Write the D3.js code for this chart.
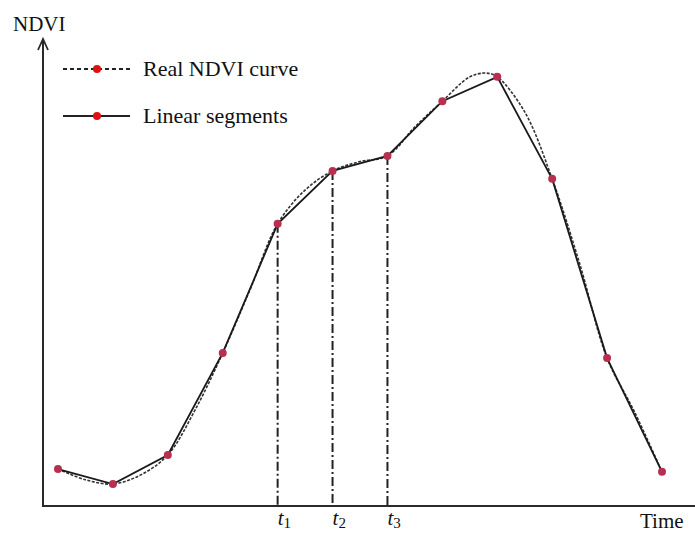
<!DOCTYPE html>
<html>
<head>
<meta charset="utf-8">
<script src="https://cdn.jsdelivr.net/npm/d3@7"></script>
<style>
  html, body { margin: 0; padding: 0; background: #fff; }
  svg { display: block; }
  text { font-family: "Liberation Serif", "Times New Roman", serif; fill: #111; }
</style>
</head>
<body>
<svg id="chart" width="695" height="534"></svg>
<script>
// Sample dates (time index) and NDVI values of the linear segment vertices
const segTime = [0, 1, 2, 3, 4, 5, 6, 7, 8, 9, 10, 11];
const segNdvi = [0.079, 0.047, 0.109, 0.327, 0.603, 0.716, 0.748, 0.865, 0.917, 0.699, 0.316, 0.073];

// Real NDVI curve, sampled at half steps
const realTime = [0, 0.5, 1, 1.5, 2, 2.5, 3, 3.5, 4, 4.5, 5, 5.5, 6, 6.5, 7, 7.5, 7.8, 8, 8.5, 9, 9.5, 10, 10.5, 11];
const realNdvi = [0.079, 0.056, 0.047, 0.066, 0.109, 0.206, 0.327, 0.463, 0.603, 0.675, 0.716, 0.736, 0.748, 0.810, 0.865, 0.917, 0.925, 0.917, 0.842, 0.699, 0.518, 0.316, 0.201, 0.073];

// Breakpoints marked on the time axis
const breakIdx = [4, 5, 6];
const breakLabels = ["1", "2", "3"];

const svg = d3.select("#chart");

const x = d3.scaleLinear().domain([0, 11]).range([58, 662]);
const y = d3.scaleLinear().domain([0, 1]).range([506, 38]);

const axisColor = "#2a2a2a";
const x0 = 43, yBase = 506;

// Axes with arrow heads
svg.append("line").attr("x1", x0).attr("y1", yBase).attr("x2", x0).attr("y2", 40)
  .attr("stroke", axisColor).attr("stroke-width", 2);
svg.append("path").attr("d", `M${x0 - 5},${50} L${x0},${39} L${x0 + 5},${50}`)
  .attr("fill", "none").attr("stroke", axisColor).attr("stroke-width", 1.8);
svg.append("line").attr("x1", x0 - 1).attr("y1", yBase).attr("x2", 695).attr("y2", yBase)
  .attr("stroke", axisColor).attr("stroke-width", 2);

// Axis titles
svg.append("text").attr("x", 13).attr("y", 31).attr("font-size", 21).text("NDVI");
svg.append("text").attr("x", 640).attr("y", 528).attr("font-size", 21).text("Time");

// Vertical dash-dot guides at breakpoints
breakIdx.forEach((i, k) => {
  svg.append("line")
    .attr("x1", x(segTime[i])).attr("x2", x(segTime[i]))
    .attr("y1", y(segNdvi[i])).attr("y2", yBase)
    .attr("stroke", "#222").attr("stroke-width", 2)
    .attr("stroke-dasharray", "9,3,2,3");
  const t = svg.append("text").attr("x", x(segTime[i])).attr("y", 525).attr("font-size", 21);
  t.append("tspan").attr("font-style", "italic").text("t");
  t.append("tspan").attr("font-size", 15).attr("dy", 3).text(breakLabels[k]);
});

// Real NDVI curve (dashed)
const realData = realTime.map((t, i) => [t, realNdvi[i]]);
svg.append("path").datum(realData)
  .attr("d", d3.line().x(d => x(d[0])).y(d => y(d[1])).curve(d3.curveCatmullRom.alpha(0.5)))
  .attr("fill", "none").attr("stroke", "#333").attr("stroke-width", 1.6)
  .attr("stroke-dasharray", "3,1.5");

// Linear segments (solid)
const segData = segTime.map((t, i) => [t, segNdvi[i]]);
svg.append("path").datum(segData)
  .attr("d", d3.line().x(d => x(d[0])).y(d => y(d[1])))
  .attr("fill", "none").attr("stroke", "#1a1a1a").attr("stroke-width", 1.8);

// Vertex markers
svg.selectAll("circle.pt").data(segData).enter().append("circle")
  .attr("class", "pt")
  .attr("cx", d => x(d[0])).attr("cy", d => y(d[1])).attr("r", 4)
  .attr("fill", "#b8304f");

// Legend
const legend = [
  { label: "Real NDVI curve", dash: "4,3", y: 69 },
  { label: "Linear segments", dash: null, y: 116 }
];
legend.forEach(l => {
  const ln = svg.append("line").attr("x1", 63).attr("x2", 130).attr("y1", l.y).attr("y2", l.y)
    .attr("stroke", "#222").attr("stroke-width", 2);
  if (l.dash) ln.attr("stroke-dasharray", l.dash);
  svg.append("circle").attr("cx", 97).attr("cy", l.y).attr("r", 4).attr("fill", "#e01010");
  svg.append("text").attr("x", 143).attr("y", l.y + 7).attr("font-size", 22).text(l.label);
});
</script>
</body>
</html>
